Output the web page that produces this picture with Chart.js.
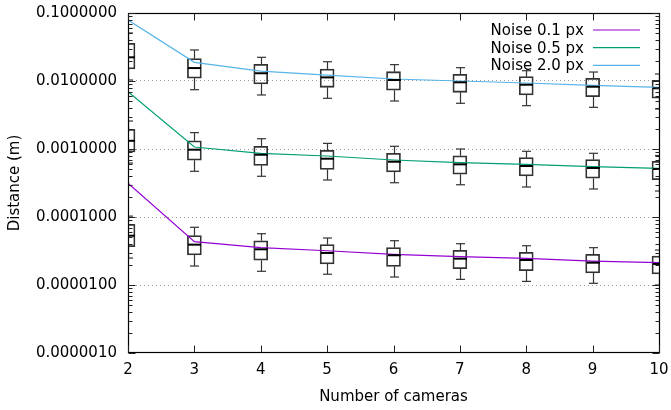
<!DOCTYPE html>
<html>
<head>
<meta charset="utf-8">
<script src="https://cdn.jsdelivr.net/npm/chart.js@4"></script>
<style>
  html, body { margin: 0; padding: 0; background: #fff; }
  canvas { display: block; }
</style>
</head>
<body>
<canvas id="chart" width="671" height="410"></canvas>
<script>
// Number of cameras on the x axis
const cameras = [2, 3, 4, 5, 6, 7, 8, 9, 10];

const seriesLabels = ['Noise 0.1 px', 'Noise 0.5 px', 'Noise 2.0 px'];
const seriesColors = ['#9400d3', '#009e73', '#56b4e9'];

// Noise 0.1 px: whisker ends, quartiles, median, mean (m)
const n01Min    = [2.49e-5, 1.90e-5, 1.59e-5, 1.44e-5, 1.31e-5, 1.21e-5, 1.13e-5, 1.06e-5, 1.00e-5];
const n01Q1     = [3.66e-5, 2.76e-5, 2.31e-5, 2.04e-5, 1.88e-5, 1.74e-5, 1.62e-5, 1.50e-5, 1.45e-5];
const n01Median = [5.31e-5, 3.92e-5, 3.35e-5, 2.96e-5, 2.74e-5, 2.44e-5, 2.33e-5, 2.13e-5, 2.04e-5];
const n01Q3     = [7.82e-5, 5.31e-5, 4.48e-5, 3.92e-5, 3.54e-5, 3.23e-5, 3.03e-5, 2.82e-5, 2.67e-5];
const n01Max    = [1.03e-4, 7.06e-5, 5.68e-5, 4.91e-5, 4.48e-5, 4.05e-5, 3.78e-5, 3.54e-5, 3.27e-5];
const n01Mean   = [3.13e-4, 4.34e-5, 3.54e-5, 3.19e-5, 2.82e-5, 2.61e-5, 2.47e-5, 2.25e-5, 2.13e-5];

// Noise 0.5 px
const n05Min    = [6.22e-4, 4.70e-4, 3.97e-4, 3.50e-4, 3.19e-4, 2.98e-4, 2.76e-4, 2.58e-4, 2.41e-4];
const n05Q1     = [9.04e-4, 6.83e-4, 5.75e-4, 5.02e-4, 4.59e-4, 4.25e-4, 4.01e-4, 3.71e-4, 3.54e-4];
const n05Median = [1.32e-3, 9.77e-4, 8.24e-4, 7.20e-4, 6.50e-4, 5.95e-4, 5.62e-4, 5.26e-4, 5.08e-4];
const n05Q3     = [1.95e-3, 1.32e-3, 1.096e-3, 9.57e-4, 8.65e-4, 7.96e-4, 7.45e-4, 6.97e-4, 6.59e-4];
const n05Max    = [2.58e-3, 1.74e-3, 1.416e-3, 1.21e-3, 1.096e-3, 1.00e-3, 9.25e-4, 8.65e-4, 8.01e-4];
const n05Mean   = [6.97e-3, 1.07e-3, 8.65e-4, 7.89e-4, 6.89e-4, 6.30e-4, 5.95e-4, 5.49e-4, 5.20e-4];

// Noise 2.0 px
const n20Min    = [1.035e-2, 7.45e-3, 6.23e-3, 5.57e-3, 5.08e-3, 4.70e-3, 4.34e-3, 4.10e-3, 3.87e-3];
const n20Q1     = [1.50e-2, 1.10e-2, 9.03e-3, 8.08e-3, 7.30e-3, 6.82e-3, 6.23e-3, 5.87e-3, 5.57e-3];
const n20Median = [2.23e-2, 1.55e-2, 1.30e-2, 1.13e-2, 1.035e-2, 9.57e-3, 8.82e-3, 8.24e-3, 7.81e-3];
const n20Q3     = [3.58e-2, 2.13e-2, 1.76e-2, 1.50e-2, 1.37e-2, 1.256e-2, 1.157e-2, 1.096e-2, 1.024e-2];
const n20Max    = [5.08e-2, 2.86e-2, 2.23e-2, 1.92e-2, 1.74e-2, 1.57e-2, 1.417e-2, 1.355e-2, 1.267e-2];
const n20Mean   = [7.88e-2, 1.88e-2, 1.40e-2, 1.22e-2, 1.07e-2, 1.00e-2, 9.35e-3, 8.65e-3, 8.08e-3];

// Y axis: labelled decades and minor tick multipliers
const yDecades = [1e-6, 1e-5, 1e-4, 1e-3, 1e-2, 1e-1];
const yTickLabels = ['0.0000010', '0.0000100', '0.0001000', '0.0010000', '0.0100000', '0.1000000'];
const yMinorSteps = [2, 3, 4, 5, 6, 7, 8, 9];

const FONT = { family: 'DejaVu Sans', size: 15 };

const stats = [
  { min: n01Min, q1: n01Q1, median: n01Median, q3: n01Q3, max: n01Max, mean: n01Mean },
  { min: n05Min, q1: n05Q1, median: n05Median, q3: n05Q3, max: n05Max, mean: n05Mean },
  { min: n20Min, q1: n20Q1, median: n20Median, q3: n20Q3, max: n20Max, mean: n20Mean }
];

const decadeIndex = v => yDecades.findIndex(d => Math.abs(v / d - 1) < 1e-9);

// all tick positions of the log axis (decades + minor multiples)
const yAllTicks = [];
yDecades.forEach((d, i) => {
  yAllTicks.push(d);
  if (i < yDecades.length - 1) yMinorSteps.forEach(k => yAllTicks.push(k * d));
});

// mean lines (drawn above the boxes)
const lineSets = stats.map((s, k) => ({
  type: 'line',
  label: seriesLabels[k],
  data: cameras.map((c, i) => ({ x: c, y: s.mean[i] })),
  borderColor: seriesColors[k],
  backgroundColor: seriesColors[k],
  borderWidth: 1.2,
  pointRadius: 0,
  tension: 0,
  order: 0
}));

// interquartile boxes as floating bars
const boxSets = stats.map((s, k) => ({
  type: 'bar',
  label: seriesLabels[k] + ' box',
  data: cameras.map((c, i) => ({ x: c, y: [s.q1[i], s.q3[i]] })),
  stats: s,
  backgroundColor: 'rgba(255,255,255,0)',
  borderColor: '#333',
  borderWidth: 1.1,
  borderSkipped: false,
  barThickness: 14,
  grouped: false,
  order: 1
}));

// keep every dataset inside the plot frame
const clipPlugin = {
  id: 'clipToArea',
  beforeDatasetDraw(chart) {
    const { ctx, chartArea: a } = chart;
    ctx.save();
    ctx.beginPath();
    ctx.rect(a.left, a.top, a.right - a.left, a.bottom - a.top);
    ctx.clip();
  },
  afterDatasetDraw(chart) {
    chart.ctx.restore();
  }
};

// whiskers, caps and medians for each box
const whiskerPlugin = {
  id: 'whiskers',
  afterDatasetsDraw(chart) {
    const { ctx, chartArea: a, scales: { x, y } } = chart;
    ctx.save();
    ctx.beginPath();
    ctx.rect(a.left, a.top, a.right - a.left, a.bottom - a.top);
    ctx.clip();
    const seg = (x1, y1, x2, y2) => { ctx.beginPath(); ctx.moveTo(x1, y1); ctx.lineTo(x2, y2); ctx.stroke(); };
    chart.data.datasets.forEach(ds => {
      if (!ds.stats) return;
      const s = ds.stats;
      cameras.forEach((c, i) => {
        const px = Math.round(x.getPixelForValue(c)) + 0.5;
        const yMin = y.getPixelForValue(s.min[i]);
        const yQ1 = y.getPixelForValue(s.q1[i]);
        const yQ3 = y.getPixelForValue(s.q3[i]);
        const yMax = y.getPixelForValue(s.max[i]);
        const yMed = y.getPixelForValue(s.median[i]);
        ctx.strokeStyle = '#333';
        ctx.lineWidth = 1.2;
        seg(px, yQ3, px, yMax);
        seg(px, yQ1, px, yMin);
        seg(px - 4.5, yMax, px + 4.5, yMax);
        seg(px - 4.5, yMin, px + 4.5, yMin);
        ctx.strokeStyle = '#000';
        ctx.lineWidth = 2;
        seg(px - 6.5, yMed, px + 6.5, yMed);
      });
    });
    ctx.restore();
  }
};

// plot frame, inward tick marks and the key
const framePlugin = {
  id: 'frame',
  afterDraw(chart) {
    const { ctx, chartArea: a, scales: { x, y } } = chart;
    const L = a.left + 0.5, R = a.right + 0.5, T = a.top + 0.5, B = a.bottom - 0.5;
    ctx.save();
    ctx.strokeStyle = '#000';
    ctx.lineWidth = 1.2;
    ctx.strokeRect(L, T, R - L, B - T);

    ctx.lineWidth = 1;
    ctx.strokeStyle = '#222';
    y.ticks.forEach(t => {
      const py = Math.round(y.getPixelForValue(t.value)) + 0.5;
      const len = decadeIndex(t.value) >= 0 ? 7 : 4;
      ctx.beginPath();
      ctx.moveTo(L, py); ctx.lineTo(L + len, py);
      ctx.moveTo(R, py); ctx.lineTo(R - len, py);
      ctx.stroke();
    });
    x.ticks.forEach(t => {
      const px = Math.round(x.getPixelForValue(t.value)) + 0.5;
      ctx.beginPath();
      ctx.moveTo(px, B); ctx.lineTo(px, B - 7);
      ctx.moveTo(px, T); ctx.lineTo(px, T + 7);
      ctx.stroke();
    });

    // key: text right-aligned, sample line to its right
    ctx.font = '15px "DejaVu Sans"';
    ctx.textAlign = 'right';
    ctx.textBaseline = 'middle';
    const lines = chart.data.datasets.filter(d => d.type === 'line');
    lines.forEach((d, k) => {
      const ky = a.top + 17 + k * 17.7;
      ctx.fillStyle = '#000';
      ctx.fillText(d.label, a.right - 75, ky + 1);
      ctx.strokeStyle = d.borderColor;
      ctx.lineWidth = 1.2;
      ctx.beginPath();
      ctx.moveTo(a.right - 66, ky); ctx.lineTo(a.right - 19, ky);
      ctx.stroke();
    });
    ctx.restore();
  }
};

new Chart(document.getElementById('chart'), {
  type: 'bar',
  data: { datasets: [...lineSets, ...boxSets] },
  plugins: [clipPlugin, whiskerPlugin, framePlugin],
  options: {
    responsive: false,
    animation: false,
    devicePixelRatio: 1,
    layout: { padding: { top: 13, right: 12, left: 0, bottom: 0 } },
    plugins: { legend: { display: false }, tooltip: { enabled: false } },
    scales: {
      x: {
        type: 'linear',
        min: 2,
        max: 10,
        offset: false,
        ticks: { stepSize: 1, font: FONT, color: '#000', padding: 8, maxRotation: 0 },
        grid: { display: false, drawTicks: false },
        border: { display: false },
        title: { display: true, text: 'Number of cameras', font: FONT, color: '#000', padding: { top: 0, bottom: 4 } },
        afterFit: s => { s.height = 57; s.paddingLeft = 0; s.paddingRight = 0; }
      },
      y: {
        type: 'logarithmic',
        min: 1e-6,
        max: 0.1,
        afterBuildTicks: s => { s.ticks = yAllTicks.map(v => ({ value: v, major: decadeIndex(v) >= 0 })); },
        ticks: {
          autoSkip: false,
          font: FONT,
          color: '#000',
          padding: 11,
          callback: v => { const i = decadeIndex(v); return i >= 0 ? yTickLabels[i] : ''; }
        },
        grid: {
          drawTicks: false,
          lineWidth: 1,
          color: c => {
            const v = c.tick ? c.tick.value : null;
            return (v !== null && decadeIndex(v) > 0 && decadeIndex(v) < yDecades.length - 1) ? '#9a9a9a' : 'rgba(0,0,0,0)';
          }
        },
        border: { display: false, dash: [1, 3] },
        title: { display: true, text: 'Distance (m)', font: FONT, color: '#000', padding: { top: 6, bottom: 0 } },
        afterFit: s => { s.width = 128; s.paddingTop = 0; s.paddingBottom = 0; }
      }
    }
  }
});
</script>
</body>
</html>
